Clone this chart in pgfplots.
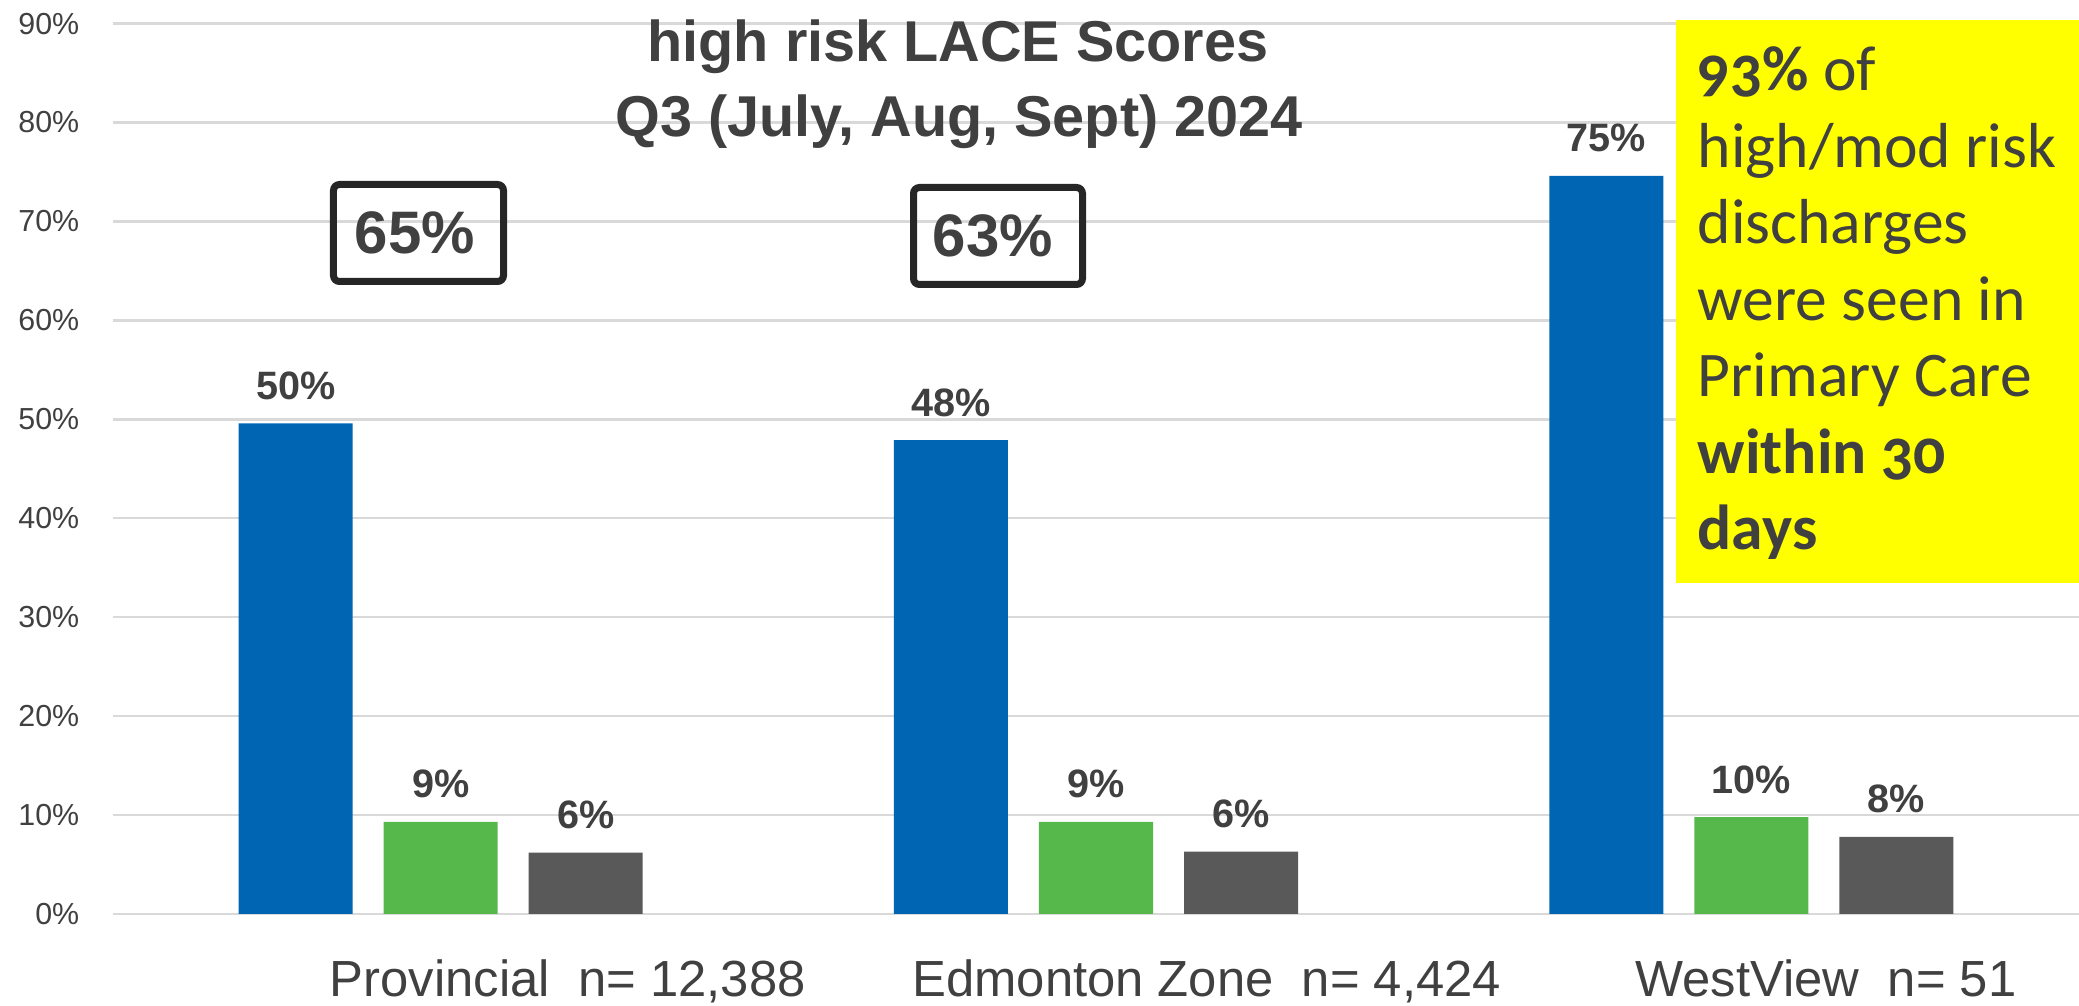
\documentclass[border=0pt]{standalone}
\usepackage{fontspec}
\setmainfont{Liberation Sans}
\newfontfamily\boxfont[Numbers=OldStyle]{Carlito}
\usepackage{pgfplots}
\pgfplotsset{compat=1.18}
\definecolor{cblue}{HTML}{0066B3}
\definecolor{cgreen}{HTML}{56B84A}
\definecolor{cgray}{HTML}{595959}
\definecolor{gridc}{HTML}{D9D9D9}
\definecolor{txt}{HTML}{404040}
\definecolor{boxc}{HTML}{262626}
\definecolor{noteyellow}{HTML}{FFFF00}
\begin{document}
\begin{tikzpicture}
\begin{axis}[
  at={(0,0)}, anchor=south west,
  scale only axis, width=491.5pt, height=222.6pt,
  xmin=-0.5, xmax=2.5, ymin=0, ymax=90,
  axis line style={draw=none},
  major tick length=0pt,
  ytick={0,10,...,90},
  yticklabels={0\%,10\%,20\%,30\%,40\%,50\%,60\%,70\%,80\%,90\%},
  ymajorgrids, major grid style={draw=gridc, line width=0.6pt},
  xtick={0.194,1.169,2.114},
  xticklabels={{Provincial\ \ n= 12,388},{Edmonton Zone\ \ n= 4,424},{WestView\ \ n= 51}},
  xticklabel style={anchor=base, yshift=-20.75pt, inner sep=0pt, font=\fontsize{12.7}{15}\selectfont, text=txt},
  yticklabel style={anchor=east, xshift=-8.25pt, inner sep=0pt, font=\fontsize{7.6}{9}\selectfont, text=txt},
  ybar, bar width=28.5pt,
  nodes near coords, point meta=explicit symbolic,
  nodes near coords style={anchor=base, yshift=6pt, inner sep=0pt, font=\bfseries\fontsize{9.9}{12}\selectfont, text=txt},
  clip=false,
]
\addplot[fill=cblue, draw=none, bar shift=-36.25pt] coordinates {(0,49.6)[50\%] (1,47.9)[48\%] (2,74.6)[75\%]};
\addplot[fill=cgreen, draw=none, bar shift=0pt] coordinates {(0,9.3)[9\%] (1,9.3)[9\%] (2,9.8)[10\%]};
\addplot[fill=cgray, draw=none, bar shift=36.25pt] coordinates {(0,6.2)[6\%] (1,6.3)[6\%] (2,7.8)[8\%]};
\end{axis}
\begin{scope}[x=0.25pt, y=-0.25pt, shift={(-28.25pt,228.5pt)}]
  % title
  \node[anchor=base, inner sep=0pt, text=txt, font=\bfseries\fontsize{14.4}{17}\selectfont] at (958,62) {high risk LACE Scores};
  \node[anchor=base, inner sep=0pt, text=txt, font=\bfseries\fontsize{14.4}{17}\selectfont] at (959,137) {Q3 (July, Aug, Sept) 2024};
  % boxes
  \draw[line width=1.75pt, draw=boxc, rounded corners=1.5pt] (333.5,184.5) rectangle (503.5,281.5);
  \node[anchor=base, inner sep=0pt, text=txt, font=\bfseries\fontsize{15}{18}\selectfont] at (415,254) {65\%};
  \draw[line width=1.75pt, draw=boxc, rounded corners=1.5pt] (913.5,187.5) rectangle (1082.5,284.5);
  \node[anchor=base, inner sep=0pt, text=txt, font=\bfseries\fontsize{15}{18}\selectfont] at (993,257) {63\%};
  % yellow note
  \fill[noteyellow] (1676,20) rectangle (2090,583);
  \begin{scope}[every node/.style={anchor=base west, inner sep=0pt, text=txt, font=\boxfont\fontsize{15.9}{19}\selectfont}]
    \node at (1697,91) {\textbf{93\%} of};
    \node at (1697,167.5) {high/mod risk};
    \node at (1697,244) {discharges};
    \node at (1697,320.5) {were seen in};
    \node at (1697,397) {Primary Care};
    \node at (1697,473.5) {\textbf{within 30}};
    \node at (1697,550) {\textbf{days}};
  \end{scope}
\end{scope}
\pgfresetboundingbox
\path[use as bounding box] (-28.25pt,-23pt) rectangle (491.5pt,228.5pt);
\end{tikzpicture}
\end{document}
